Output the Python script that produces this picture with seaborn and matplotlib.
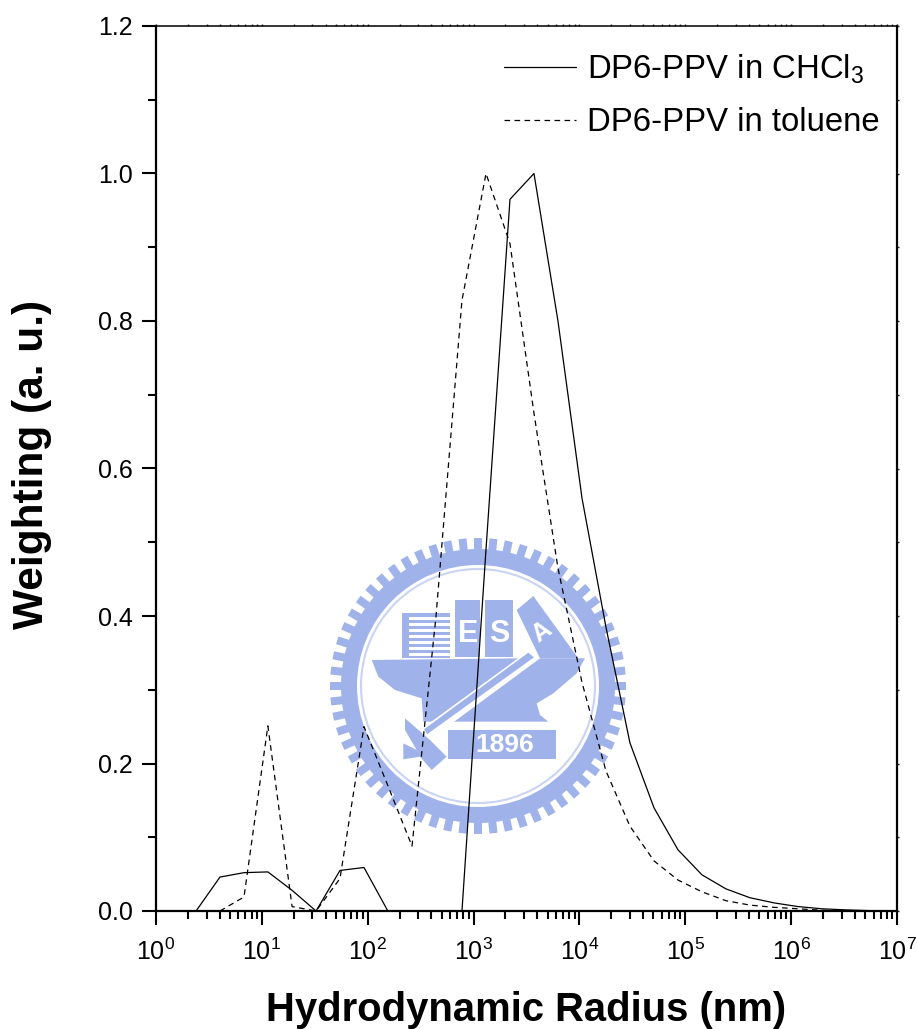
# %%
import numpy as np
import pandas as pd
import matplotlib.pyplot as plt
import seaborn as sns
from matplotlib.lines import Line2D
from matplotlib.patches import Circle, Polygon, Rectangle
from matplotlib.ticker import LogLocator, MultipleLocator, NullFormatter

# %%
# values
radius_chcl3 = [2.39, 4.02, 6.78, 11.4, 19.3, 32.5, 54.7, 92.2, 155,
                777, 1310, 2208, 3720, 6270, 10570, 17800, 30000, 50600, 85300,
                143800, 242000, 408000, 689000, 1.16e6, 1.96e6, 3.3e6, 5.56e6, 9.4e6]
weight_chcl3 = [0.0, 0.046, 0.052, 0.053, 0.028, 0.0, 0.055, 0.059, 0.0,
                0.0, 0.49, 0.965, 1.0, 0.80, 0.56, 0.385, 0.228, 0.14, 0.083,
                0.049, 0.03, 0.018, 0.011, 0.006, 0.003, 0.0015, 0.0005, 0.0]

radius_toluene = [4.02, 6.78, 11.4, 19.3, 32.5, 54.7, 92.2, 155, 262, 442, 777,
                  1310, 2208, 3720, 6270, 10570, 17800, 30000, 50600, 85300,
                  143800, 242000, 408000, 689000, 1.16e6, 1.96e6, 3.3e6]
weight_toluene = [0.0, 0.019, 0.251, 0.006, 0.0, 0.044, 0.25, 0.17, 0.088, 0.40, 0.828,
                  1.0, 0.905, 0.675, 0.465, 0.31, 0.19, 0.115, 0.068, 0.042,
                  0.026, 0.014, 0.008, 0.005, 0.003, 0.001, 0.0]

label_chcl3 = 'DP6-PPV in CHCl$_3$'
label_toluene = 'DP6-PPV in toluene'
xlabel = 'Hydrodynamic Radius (nm)'
ylabel = 'Weighting (a. u.)'

df_chcl3 = pd.DataFrame({'radius': radius_chcl3, 'weight': weight_chcl3})
df_toluene = pd.DataFrame({'radius': radius_toluene, 'weight': weight_toluene})

# %%
sns.set_theme(style='ticks')
plt.rcParams['font.family'] = ['Liberation Sans', 'DejaVu Sans']
plt.rcParams['mathtext.default'] = 'regular'

W, H = 917, 1029
fig = plt.figure(figsize=(W / 100, H / 100), dpi=100, facecolor='white')


# %%
# watermark behind the plot, in pixels of the image
def emblem(fig):
    bg = fig.add_axes([0, 0, 1, 1], zorder=0)
    bg.set_xlim(0, W)
    bg.set_ylim(H, 0)
    bg.axis('off')
    blue = '#9fb2ea'
    cx, cy = 478, 686
    for a in np.arange(0, 360, 6.0):
        t = np.deg2rad(a)
        x0, y0 = cx + 125 * np.cos(t), cy + 125 * np.sin(t)
        bg.add_patch(Rectangle((x0, y0 - 4), 23, 8, angle=a, rotation_point=(x0, y0),
                               color=blue, lw=0))
    bg.add_patch(Circle((cx, cy), 137, color=blue, lw=0))
    bg.add_patch(Circle((cx, cy), 121, color='white', lw=0))
    bg.add_patch(Circle((cx, cy), 117, fill=False, ec='#c9d4f2', lw=1.5))

    def pts(coords):
        # coordinates taken from the 3x crop at (320, 530)
        return [(320 + x / 3, 530 + y / 3) for x, y in coords]

    hull = [(155, 390), (600, 385), (795, 385), (770, 430), (700, 490), (650, 520),
            (660, 555), (685, 575), (310, 575), (305, 505), (225, 480), (175, 440)]
    bg.add_patch(Polygon(pts(hull), color=blue, lw=0))
    bg.add_patch(Polygon(pts([(590, 240), (640, 198), (775, 385), (660, 385)]), color=blue, lw=0))
    bg.add_patch(Polygon(pts([(405, 210), (480, 210), (480, 380), (405, 380)]), color=blue, lw=0))
    bg.add_patch(Polygon(pts([(495, 210), (580, 210), (580, 380), (495, 380)]), color=blue, lw=0))
    bg.add_patch(Polygon(pts([(245, 250), (390, 250), (390, 385), (245, 385)]), color=blue, lw=0))
    for y in [262, 280, 298, 316, 334, 352, 368]:
        bg.add_patch(Polygon(pts([(266, y), (390, y), (390, y + 9), (266, y + 9)]), color='white', lw=0))
    # white diagonal bar
    bg.add_patch(Polygon(pts([(635, 355), (660, 385), (335, 625), (300, 600)]), color='white', lw=0))
    bg.add_patch(Polygon(pts([(625, 368), (642, 382), (322, 612), (312, 598)]), color=blue, lw=0))
    # lower plate and handle
    bg.add_patch(Polygon(pts([(385, 600), (707, 600), (707, 688), (385, 688)]), color=blue, lw=0))
    bg.add_patch(Polygon(pts([(255, 565), (330, 630), (380, 680), (335, 720), (300, 680),
                              (250, 688), (250, 640), (290, 660), (255, 600)]), color=blue, lw=0))
    bg.text(320 + 445 / 3, 530 + 312 / 3, 'E', color='white', fontsize=22, fontweight='bold',
            ha='center', va='center')
    bg.text(320 + 537 / 3, 530 + 312 / 3, 'S', color='white', fontsize=22, fontweight='bold',
            ha='center', va='center')
    bg.text(320 + 665 / 3, 530 + 305 / 3, 'A', color='white', fontsize=18, fontweight='bold',
            ha='center', va='center', rotation=35)
    bg.text(320 + 555 / 3, 530 + 645 / 3, '1896', color='white', fontsize=19, fontweight='bold',
            ha='center', va='center')


emblem(fig)

# %%
ax = fig.add_axes([156 / W, 1 - 911 / H, (897 - 156) / W, (911 - 26) / H], zorder=1)
ax.patch.set_visible(False)

dash = (0, (4.5, 3.5))
sns.lineplot(data=df_chcl3, x='radius', y='weight', ax=ax, color='black', lw=0.9,
             estimator=None, sort=False)
sns.lineplot(data=df_toluene, x='radius', y='weight', ax=ax, color='black', lw=0.9,
             estimator=None, sort=False, linestyle=dash)

ax.set_xscale('log')
ax.set_xlim(1, 1e7)
ax.set_ylim(0, 1.2)
ax.xaxis.set_major_locator(LogLocator(base=10, numticks=10))
ax.xaxis.set_minor_locator(LogLocator(base=10, subs=np.arange(2, 10), numticks=10))
ax.xaxis.set_minor_formatter(NullFormatter())
ax.yaxis.set_major_locator(MultipleLocator(0.2))
ax.yaxis.set_minor_locator(MultipleLocator(0.1))
ax.yaxis.set_major_formatter(lambda v, pos: f'{v:.1f}')

ax.tick_params(which='major', length=10, width=1.5, labelsize=18, color='black', labelcolor='black')
ax.tick_params(which='minor', length=5.5, width=1.5, color='black')
ax.tick_params(axis='x', which='major', pad=10)
ax.tick_params(axis='y', which='major', pad=7)
for side in ax.spines:
    ax.spines[side].set_visible(True)
    ax.spines[side].set_linewidth(1.6)
    ax.spines[side].set_color('black')
ax.spines['top'].set_linewidth(1.1)

# short ticks on the top and right edges
right = ax.secondary_yaxis('right')
right.yaxis.set_major_locator(MultipleLocator(0.1))
right.tick_params(length=1.5, width=1, labelright=False)
right.spines['right'].set_visible(False)
top = ax.secondary_xaxis('top')
top.xaxis.set_major_locator(LogLocator(base=10, numticks=10))
top.xaxis.set_minor_locator(LogLocator(base=10, subs=np.arange(2, 10), numticks=10))
top.xaxis.set_minor_formatter(NullFormatter())
top.tick_params(which='both', length=1.5, width=1, labeltop=False)
top.spines['top'].set_visible(False)

ax.set_xlabel(xlabel, fontsize=28.8, fontweight='bold', color='black')
ax.set_ylabel(ylabel, fontsize=30.5, fontweight='bold', color='black')
ax.xaxis.set_label_coords(0.5, -0.09)
ax.yaxis.set_label_coords(-0.14, 0.505)

handles = [Line2D([], [], color='black', lw=0.9),
           Line2D([], [], color='black', lw=0.9, linestyle=dash)]
ax.legend(handles, [label_chcl3, label_toluene], loc='upper right', frameon=False,
          fontsize=23.7, handlelength=2.2, handletextpad=0.33, labelspacing=0.65,
          bbox_to_anchor=(0.977, 0.97), borderaxespad=0.0, borderpad=0.0, labelcolor='black')

fig.savefig('out.png', dpi=100)
